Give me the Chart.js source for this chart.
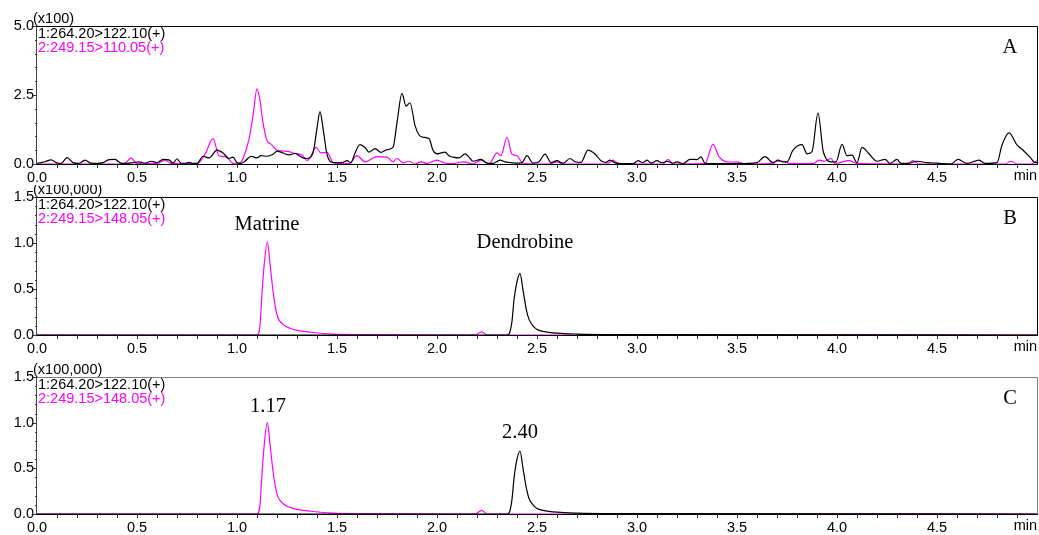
<!DOCTYPE html>
<html>
<head>
<meta charset="utf-8">
<script src="https://cdn.jsdelivr.net/npm/chart.js@4"></script>
<style>
body { margin:0; background:#fff; }
#wrap { position:relative; width:1039px; height:535px; }
canvas { position:absolute; left:0; }
</style>
</head>
<body>
<div id="wrap">
	<canvas id="panelA" width="1039" height="185" style="top:0px"></canvas>
	<canvas id="panelB" width="1039" height="170" style="top:185px"></canvas>
	<canvas id="panelC" width="1039" height="180" style="top:355px"></canvas>
</div>
<script>
// x axis tick labels (min), "min" replaces the last one
var xTicks = [0.0, 0.5, 1.0, 1.5, 2.0, 2.5, 3.0, 3.5, 4.0, 4.5];
var xUnit = "min";

// Panel A - blank, channel 1 (264.20>122.10)
var aBlackT = [0.00,0.02,0.04,0.07,0.10,0.12,0.15,0.18,0.21,0.24,0.27,0.30,0.33,0.36,0.39,0.42,0.45,0.48,0.51,0.54,0.57,0.60,0.63,0.66,0.68,0.70,0.72,0.74,0.76,0.78,0.80,0.83,0.86,0.90,0.93,0.96,0.98,1.00,1.02,1.04,1.07,1.10,1.12,1.15,1.18,1.20,1.23,1.26,1.29,1.31,1.33,1.35,1.38,1.40,1.415,1.43,1.45,1.48,1.51,1.53,1.55,1.57,1.59,1.615,1.64,1.66,1.69,1.72,1.75,1.78,1.80,1.825,1.845,1.865,1.89,1.91,1.93,1.96,1.98,2.00,2.02,2.04,2.06,2.08,2.11,2.14,2.16,2.18,2.22,2.25,2.28,2.315,2.34,2.37,2.40,2.425,2.45,2.48,2.51,2.54,2.57,2.60,2.63,2.665,2.69,2.72,2.755,2.79,2.82,2.845,2.865,2.89,2.93,2.98,3.005,3.03,3.05,3.07,3.10,3.125,3.15,3.18,3.20,3.23,3.265,3.30,3.32,3.34,3.38,3.45,3.50,3.55,3.60,3.64,3.68,3.705,3.73,3.75,3.78,3.825,3.85,3.875,3.905,3.93,3.94,3.965,3.995,4.025,4.05,4.075,4.10,4.125,4.16,4.20,4.24,4.265,4.30,4.32,4.36,4.40,4.45,4.50,4.57,4.605,4.65,4.71,4.74,4.80,4.825,4.86,4.90,4.93,4.965,4.99,5.00];
var aBlackV = [0.02,0.05,0.08,0.15,0.04,0.02,0.23,0.05,0.02,0.14,0.03,0.02,0.05,0.16,0.17,0.03,0.02,0.05,0.08,0.03,0.10,0.05,0.17,0.15,0.03,0.19,0.03,0.02,0.06,0.02,0.02,0.28,0.22,0.50,0.40,0.20,0.25,0.05,0.02,0.10,0.28,0.22,0.30,0.28,0.35,0.47,0.40,0.33,0.38,0.30,0.22,0.20,0.40,1.30,1.90,1.30,0.35,0.06,0.05,0.06,0.12,0.05,0.40,0.70,0.60,0.43,0.56,0.42,0.52,0.60,1.50,2.56,2.10,2.22,1.40,1.05,0.97,0.92,0.50,0.37,0.40,0.43,0.30,0.25,0.22,0.37,0.25,0.10,0.17,0.03,0.02,0.14,0.08,0.05,0.03,0.05,0.30,0.03,0.08,0.36,0.05,0.12,0.03,0.20,0.08,0.06,0.50,0.36,0.12,0.06,0.14,0.04,0.01,0.01,0.12,0.05,0.14,0.03,0.12,0.05,0.10,0.03,0.08,0.01,0.17,0.16,0.26,0.02,0.01,0.01,0.01,0.02,0.05,0.27,0.05,0.14,0.08,0.08,0.50,0.70,0.37,0.45,1.84,0.50,0.27,0.08,0.08,0.71,0.30,0.32,0.05,0.60,0.37,0.10,0.17,0.02,0.17,0.02,0.03,0.10,0.05,0.03,0.00,0.17,0.02,0.14,0.02,0.05,0.69,1.13,0.69,0.50,0.25,0.05,0.05];

// Panel A - blank, channel 2 (249.15>110.05)
var aPinkT = [0.00,0.40,0.44,0.47,0.50,0.60,0.64,0.67,0.80,0.84,0.88,0.91,0.945,0.98,1.01,1.03,1.06,1.08,1.10,1.115,1.13,1.15,1.17,1.20,1.235,1.26,1.28,1.30,1.33,1.35,1.37,1.395,1.42,1.45,1.48,1.50,1.56,1.60,1.64,1.70,1.75,1.78,1.80,1.83,1.86,1.89,1.92,1.95,2.00,2.04,2.08,2.11,2.13,2.18,2.22,2.26,2.30,2.32,2.35,2.375,2.40,2.43,2.50,2.56,2.60,2.63,2.85,2.88,2.91,3.13,3.155,3.18,3.34,3.38,3.41,3.45,3.50,3.55,3.68,3.70,3.73,3.76,3.88,3.91,3.94,3.97,3.99,4.06,4.10,4.35,4.38,4.41,4.84,4.87,4.90,4.97,5.00];
var aPinkV = [0.00,0.00,0.02,0.22,0.01,0.02,0.15,0.02,0.01,0.35,0.92,0.30,0.26,0.02,0.00,0.20,0.90,1.75,2.72,2.30,1.50,0.85,0.72,0.50,0.47,0.45,0.40,0.38,0.30,0.12,0.30,0.60,0.40,0.42,0.05,0.01,0.01,0.30,0.08,0.27,0.25,0.08,0.20,0.04,0.10,0.00,0.08,0.02,0.14,0.03,0.01,0.06,0.08,0.00,0.14,0.00,0.40,0.30,0.97,0.35,0.30,0.02,0.00,0.00,0.08,0.00,0.00,0.14,0.00,0.00,0.17,0.00,0.01,0.72,0.27,0.08,0.07,0.00,0.02,0.10,0.10,0.02,0.01,0.14,0.10,0.20,0.02,0.12,0.02,0.00,0.12,0.00,0.00,0.10,0.00,0.00,0.12];

// Panel B - standards, Dendrobine (264.20>122.10) and Matrine (249.15>148.05)
var bBlackT = [0.00,2.35,2.36,2.375,2.385,2.40,2.415,2.43,2.447,2.46,2.48,2.50,2.53,2.60,2.70,2.90,5.00];
var bBlackV = [0.00,0.00,0.01,0.15,0.38,0.58,0.67,0.49,0.27,0.17,0.10,0.06,0.04,0.02,0.01,0.005,0.00];
var bPinkT = [0.00,1.10,1.115,1.123,1.135,1.152,1.165,1.18,1.20,1.233,1.27,1.30,1.37,1.48,1.60,2.19,2.223,2.25,5.00];
var bPinkV = [0.00,0.00,0.10,0.38,0.74,1.01,0.78,0.48,0.22,0.11,0.07,0.05,0.03,0.01,0.005,0.00,0.035,0.00,0.00];

// Panel C - sample
var cBlackT = [0.00,2.35,2.36,2.375,2.385,2.40,2.415,2.43,2.447,2.46,2.48,2.50,2.53,2.60,2.70,2.90,5.00];
var cBlackV = [0.00,0.00,0.01,0.16,0.39,0.60,0.69,0.50,0.28,0.17,0.10,0.06,0.04,0.02,0.01,0.005,0.00];
var cPinkT = [0.00,1.10,1.115,1.123,1.135,1.152,1.165,1.18,1.20,1.233,1.27,1.30,1.37,1.48,1.60,2.19,2.223,2.25,5.00];
var cPinkV = [0.00,0.00,0.10,0.37,0.73,1.00,0.77,0.47,0.22,0.11,0.07,0.05,0.03,0.01,0.005,0.00,0.04,0.00,0.00];

var BLACK = "#000000";
var PINK = "#ff00ff";

function zip(t, v)
{
	var out = [];
	for (var i = 0; i < t.length; i++) {
		out.push({x: t[i], y: v[i]});
	}
	return out;
}

Chart.defaults.font.family = "'Liberation Sans', Arial, sans-serif";
Chart.defaults.font.size = 14.5;
Chart.defaults.color = "#000";

// draws box, small ticks, trace names and peak labels
var panelDecor = {
	id: 'panelDecor',
	afterDatasetsDraw(chart) {
		var o = chart.options.plugins.panelDecor;
		var ctx = chart.ctx;
		var a = chart.chartArea;
		var xs = chart.scales.x, ys = chart.scales.y;
		ctx.save();
		ctx.lineWidth = 1;
		// frame
		ctx.strokeStyle = o.topColor;
		ctx.beginPath();
		ctx.moveTo(a.left, a.top + 0.5);
		ctx.lineTo(a.right + 0.5, a.top + 0.5);
		ctx.lineTo(a.right + 0.5, a.bottom);
		ctx.stroke();
		ctx.strokeStyle = "#444";
		ctx.beginPath();
		ctx.moveTo(a.left - 0.5, a.top);
		ctx.lineTo(a.left - 0.5, a.bottom);
		ctx.stroke();
		ctx.strokeStyle = "#000";
		ctx.beginPath();
		ctx.moveTo(a.left - 1, a.bottom + 0.5);
		ctx.lineTo(a.right + 1, a.bottom + 0.5);
		ctx.stroke();
		// x ticks every 0.1 min
		ctx.strokeStyle = "#333";
		ctx.beginPath();
		for (var i = 1; i < 50; i++) {
			var px = Math.round(xs.getPixelForValue(i / 10)) + 0.5;
			ctx.moveTo(px, a.bottom);
			ctx.lineTo(px, a.bottom + 4);
		}
		ctx.stroke();
		// y ticks
		ctx.beginPath();
		var n = Math.round(o.yMax / o.yMinor);
		for (var j = 0; j <= n; j++) {
			var v = j * o.yMinor;
			var py = Math.round(ys.getPixelForValue(v)) + 0.5;
			var isMajor = Math.abs(v / o.yMajor - Math.round(v / o.yMajor)) < 1e-6;
			ctx.moveTo(a.left - (isMajor ? 4 : 2), py);
			ctx.lineTo(a.left, py);
		}
		ctx.stroke();
		// texts
		ctx.font = "14.5px 'Liberation Sans', Arial, sans-serif";
		ctx.textBaseline = "middle";
		ctx.textAlign = "left";
		ctx.fillStyle = "#000";
		ctx.fillText(o.factor, 33, a.top - 7);
		ctx.fillText(o.trace1, a.left + 1, a.top + 8);
		ctx.fillStyle = PINK;
		ctx.fillText(o.trace2, a.left + 1, a.top + 22);
		ctx.fillStyle = "#000";
		ctx.textAlign = "right";
		ctx.fillText(xUnit, a.right, a.bottom + 12);
		ctx.font = "20.5px 'Liberation Serif', 'Times New Roman', serif";
		ctx.textAlign = "center";
		ctx.fillText(o.letter, a.right - 27, a.top + 22);
		o.peaks.forEach(function(p) {
			ctx.fillText(p.text, xs.getPixelForValue(p.x), ys.getPixelForValue(p.y));
		});
		ctx.restore();
	}
};

function makePanel(id, cfg)
{
	var ctx = document.getElementById(id).getContext('2d');
	return new Chart(ctx, {
		type: 'line',
		data: {
			datasets: [
				{ data: zip(cfg.bt, cfg.bv), borderColor: BLACK, borderWidth: 1.2, pointRadius: 0, cubicInterpolationMode: 'monotone', clip: 3 },
				{ data: zip(cfg.pt, cfg.pv), borderColor: PINK, borderWidth: 1.2, pointRadius: 0, cubicInterpolationMode: 'monotone', clip: 3 }
			]
		},
		plugins: [panelDecor],
		options: {
			responsive: false,
			animation: false,
			events: [],
			layout: { padding: { top: cfg.padTop, right: 2, left: 0, bottom: 0 } },
			plugins: {
				legend: { display: false },
				tooltip: { enabled: false },
				panelDecor: {
					topColor: cfg.topColor, factor: cfg.factor, trace1: cfg.trace1, trace2: cfg.trace2,
					letter: cfg.letter, peaks: cfg.peaks, yMax: cfg.yMax, yMajor: cfg.yStep, yMinor: cfg.yMinor
				}
			},
			scales: {
				x: {
					type: 'linear', min: 0, max: 5,
					afterFit: function(s) { s.height = cfg.xHeight; s.paddingRight = 0; s.paddingLeft = 0; },
					grid: { display: false, drawTicks: false },
					border: { display: false },
					ticks: {
						stepSize: 0.5, autoSkip: false, maxRotation: 0, padding: 5,
						callback: function(v) {
							var k = Math.round(v * 10) / 10;
							return xTicks.indexOf(k) >= 0 ? k.toFixed(1) : '';
						}
					}
				},
				y: {
					min: 0, max: cfg.yMax,
					afterFit: function(s) { s.width = 37; },
					grid: { display: false, drawTicks: false },
					border: { display: false },
					ticks: {
						stepSize: cfg.yStep, padding: 3,
						callback: function(v) { return Number(v).toFixed(1); }
					}
				}
			}
		}
	});
}

makePanel('panelA', {
	bt: aBlackT, bv: aBlackV, pt: aPinkT, pv: aPinkV,
	padTop: 26, xHeight: 21, yMax: 5, yStep: 2.5, yMinor: 0.5, topColor: "#000",
	factor: "(x100)", trace1: "1:264.20>122.10(+)", trace2: "2:249.15>110.05(+)",
	letter: "A", peaks: []
});
makePanel('panelB', {
	bt: bBlackT, bv: bBlackV, pt: bPinkT, pv: bPinkV,
	padTop: 12, xHeight: 20, yMax: 1.5, yStep: 0.5, yMinor: 0.1, topColor: "#000",
	factor: "(x100,000)", trace1: "1:264.20>122.10(+)", trace2: "2:249.15>148.05(+)",
	letter: "B", peaks: [{text: "Matrine", x: 1.15, y: 1.20}, {text: "Dendrobine", x: 2.44, y: 1.0}]
});
makePanel('panelC', {
	bt: cBlackT, bv: cBlackV, pt: cPinkT, pv: cPinkV,
	padTop: 22, xHeight: 21, yMax: 1.5, yStep: 0.5, yMinor: 0.1, topColor: "#808080",
	factor: "(x100,000)", trace1: "1:264.20>122.10(+)", trace2: "2:249.15>148.05(+)",
	letter: "C", peaks: [{text: "1.17", x: 1.155, y: 1.18}, {text: "2.40", x: 2.415, y: 0.89}]
});
</script>
</body>
</html>
